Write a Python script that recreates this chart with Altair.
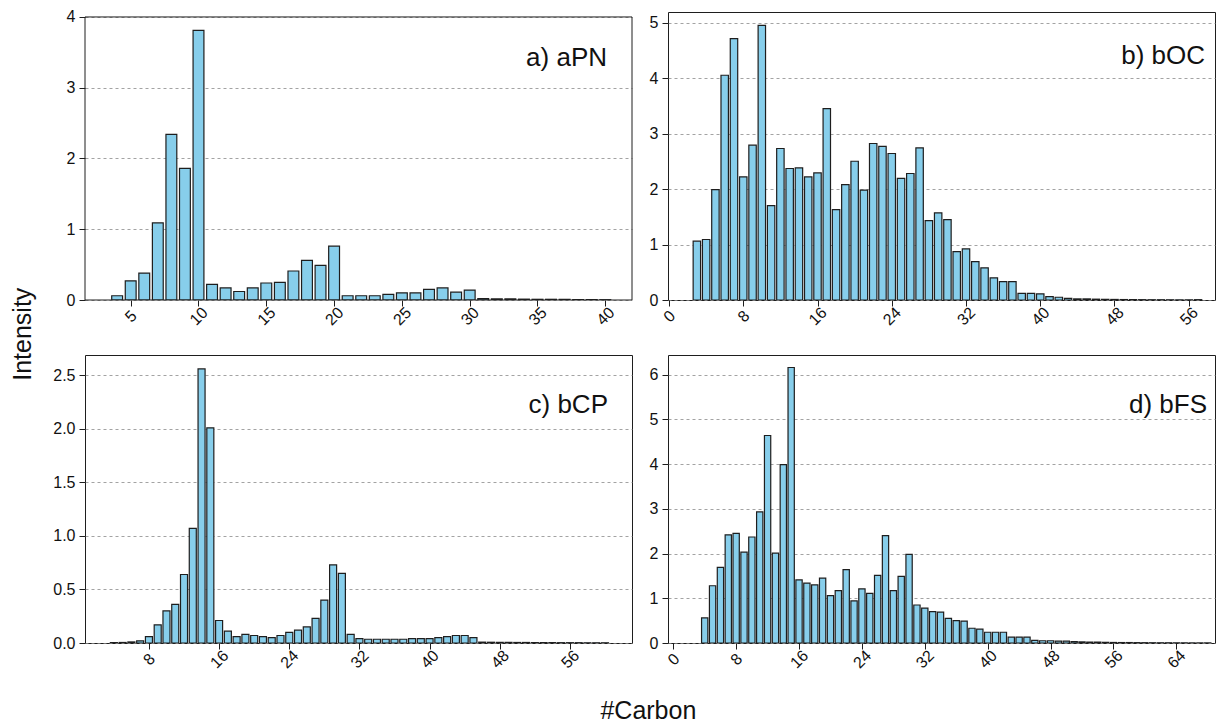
import altair as alt
import pandas as pd

# ---------------- data ----------------
a_carbon = list(range(4, 41))
a_intensity = [0.06, 0.27, 0.38, 1.09, 2.34, 1.86, 3.81,
               0.22, 0.17, 0.12, 0.17, 0.24, 0.25, 0.41, 0.56, 0.49, 0.76,
               0.06, 0.06, 0.06, 0.08, 0.10, 0.10, 0.15, 0.17, 0.11, 0.14,
               0.02, 0.015, 0.015, 0.012, 0.01, 0.01, 0.008, 0.006, 0.005, 0.004]

b_carbon = list(range(3, 58))
b_intensity = [1.06, 1.09, 1.99, 4.05, 4.71, 2.22, 2.79, 4.95, 1.70, 2.73,
               2.37, 2.38, 2.22, 2.29, 3.45, 1.63, 2.08, 2.50, 1.98, 2.82,
               2.77, 2.64, 2.19, 2.28, 2.74, 1.43, 1.57,
               1.45, 0.87, 0.92, 0.69, 0.58, 0.40, 0.33, 0.33, 0.12, 0.12,
               0.11, 0.06, 0.05, 0.03, 0.02, 0.02,
               0.015, 0.012, 0.01, 0.008, 0.007, 0.006, 0.005, 0.005, 0.004,
               0.004, 0.003, 0.006]

c_carbon = list(range(4, 61))
c_intensity = [0.003, 0.005, 0.01, 0.02,
               0.06, 0.17, 0.30, 0.36, 0.64, 1.07, 2.56, 2.01, 0.21, 0.11,
               0.06, 0.08, 0.07, 0.06, 0.05, 0.07, 0.10, 0.12, 0.15, 0.23,
               0.40, 0.73, 0.65,
               0.08, 0.04, 0.035, 0.035, 0.035, 0.035, 0.035, 0.04, 0.04, 0.04,
               0.05, 0.06, 0.07, 0.07, 0.05,
               0.008, 0.007, 0.006, 0.006, 0.005, 0.005, 0.004, 0.004, 0.004,
               0.003, 0.003, 0.003, 0.002, 0.002, 0.002]

d_carbon = list(range(4, 69))
d_intensity = [0.56, 1.28, 1.69, 2.42, 2.45, 2.03, 2.37, 2.93, 4.64, 2.01,
               3.99, 6.16, 1.41, 1.34, 1.30, 1.45, 1.06, 1.17, 1.64, 0.94,
               1.21, 1.11, 1.51, 2.40, 1.17, 1.49, 1.98, 0.85, 0.78, 0.70,
               0.69, 0.55, 0.50, 0.49, 0.33, 0.31, 0.24, 0.24, 0.24, 0.13,
               0.13, 0.13, 0.06, 0.05, 0.05, 0.04, 0.04,
               0.03, 0.025, 0.02, 0.02, 0.015, 0.012, 0.01, 0.01, 0.008,
               0.007, 0.006, 0.005, 0.005, 0.004, 0.004, 0.003, 0.003, 0.003]

a_xticks = [5, 10, 15, 20, 25, 30, 35, 40]
b_xticks = [0, 8, 16, 24, 32, 40, 48, 56]
c_xticks = [8, 16, 24, 32, 40, 48, 56]
d_xticks = [0, 8, 16, 24, 32, 40, 48, 56, 64]
a_yticks = [0, 1, 2, 3, 4]
b_yticks = [0, 1, 2, 3, 4, 5]
c_yticks = [0.0, 0.5, 1.0, 1.5, 2.0, 2.5]
d_yticks = [0, 1, 2, 3, 4, 5, 6]

labels = ["a) aPN", "b) bOC", "c) bCP", "d) bFS"]

# ---------------- style ----------------
FONT = "Liberation Sans"
FILL = "#87CEEB"
EDGE = "#1e1e1e"
W = 547
H = 288


def panel(carbon, intensity, label, xdom, ydom, xticks, yticks, yfmt,
          lx, ly, frame_top=None):
    df = pd.DataFrame({"carbon": carbon, "intensity": intensity})
    one = pd.DataFrame({"label": [label], "top": [frame_top if frame_top is not None else 0]})
    bars = alt.Chart(df).transform_calculate(
        x0="datum.carbon - 0.4", x1="datum.carbon + 0.4"
    ).mark_bar(fill=FILL, stroke=EDGE, strokeWidth=1.2, clip=True).encode(
        x=alt.X("x0:Q", title=None,
                scale=alt.Scale(domain=xdom, nice=False, zero=False),
                axis=alt.Axis(values=xticks, format="d", grid=False,
                              labelAngle=315, labelAlign="center",
                              labelBaseline="middle", labelPadding=10,
                              labelFlush=False, labelOverlap=False)),
        x2="x1:Q",
        y=alt.Y("intensity:Q", title=None,
                scale=alt.Scale(domain=ydom, nice=False),
                axis=alt.Axis(values=yticks, format=yfmt, grid=True,
                              labelPadding=4, labelOverlap=False,
                              labelFlush=False)),
        y2=alt.datum(0),
    )
    text = alt.Chart(one).mark_text(
        align="right", baseline="alphabetic", font=FONT,
        fontSize=26, color="#111"
    ).encode(x=alt.value(lx), y=alt.value(ly), text="label:N")
    layers = [bars, text]
    if frame_top is not None:
        frame = alt.Chart(one).mark_rect(
            fill="transparent", stroke=EDGE, strokeWidth=1
        ).encode(x=alt.value(0), x2=alt.value(W),
                 y=alt.Y("top:Q"), y2=alt.datum(0))
        layers.append(frame)
        return alt.layer(*layers, view=alt.ViewBackground(stroke=None)).properties(width=W, height=H)
    return alt.layer(*layers).properties(width=W, height=H)


pa = panel(a_carbon, a_intensity, labels[0], [1.63, 41.97], [0, 4.07],
           a_xticks, a_yticks, "d", 522, 54, frame_top=4)
pb = panel(b_carbon, b_intensity, labels[1], [-0.11, 58.83], [0, 5.19],
           b_xticks, b_yticks, "d", 537, 52)
pc = panel(c_carbon, c_intensity, labels[2], [0.71, 63.08], [0, 2.69],
           c_xticks, c_yticks, ".1f", 523, 58)
pd_ = panel(d_carbon, d_intensity, labels[3], [-0.67, 68.92], [0, 6.44],
            d_xticks, d_yticks, "d", 539, 58)

inner = alt.concat(
    pa, pb, pc, pd_, columns=2, spacing={"row": 25, "column": 15},
    title=alt.TitleParams("Intensity", orient="left", anchor="middle",
                          font=FONT, fontSize=25, fontWeight="normal",
                          color="#111", offset=16, dx=6),
)

chart = alt.vconcat(
    inner,
    title=alt.TitleParams("#Carbon", orient="bottom", anchor="middle",
                          font=FONT, fontSize=25, fontWeight="normal",
                          color="#111", offset=28, dx=35),
).properties(
    padding={"left": 11, "top": 8, "right": 0, "bottom": 0},
    background="white",
).configure_view(
    stroke=EDGE, strokeWidth=1
).configure_axis(
    labelFont=FONT, labelFontSize=16, labelColor="#111",
    tickColor=EDGE, tickSize=6, tickWidth=1, domain=False,
    gridColor="#8c8c8c", gridDash=[3, 3], gridWidth=0.8,
)

chart.save("out.html", embed_options={"renderer": "svg", "actions": False})
